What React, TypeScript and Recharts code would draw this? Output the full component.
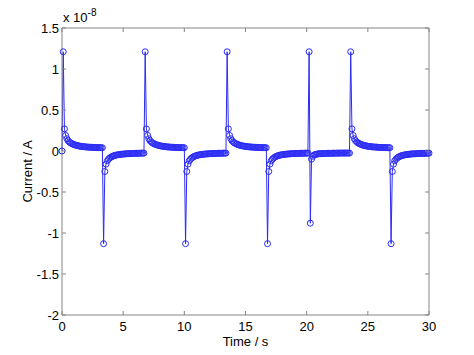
import React from 'react';
import { LineChart, Line, XAxis, YAxis } from 'recharts';

const X_TICKS = [0, 5, 10, 15, 20, 25, 30];
const Y_TICKS = [-2, -1.5, -1, -0.5, 0, 0.5, 1, 1.5];

// pulses: start sample (tenths of a second), spike values, which decay follows
const PULSE_START = [1, 34, 68, 101, 135, 168, 202, 236, 269];
const PULSE_PEAKS = [[1.21], [-1.13], [1.21], [-1.13], [1.21], [-1.13], [1.21, -0.88], [1.21], [-1.13]];
const PULSE_TAIL = ['pos', 'neg', 'pos', 'neg', 'pos', 'neg', 'dip', 'pos', 'neg'];

// decay after a spike (x 1e-8 A, every 0.1 s)
const POS_TAIL = [
  0.27, 0.19, 0.15, 0.125, 0.11, 0.098, 0.09, 0.083, 0.077, 0.072, 0.068, 0.064,
  0.061, 0.058, 0.056, 0.054, 0.052, 0.05, 0.049, 0.048, 0.047, 0.046, 0.045, 0.044,
  0.043, 0.043, 0.042, 0.042, 0.041, 0.041, 0.04, 0.04, 0.04, 0.04,
];
const NEG_TAIL = [
  -0.25, -0.16, -0.12, -0.1, -0.085, -0.075, -0.067, -0.06, -0.055, -0.051, -0.048, -0.045,
  -0.043, -0.041, -0.039, -0.037, -0.036, -0.035, -0.034, -0.033, -0.032, -0.031, -0.03, -0.03,
  -0.029, -0.029, -0.028, -0.028, -0.027, -0.027, -0.026, -0.026, -0.026, -0.026,
];
const DIP_TAIL = [
  -0.1, -0.065, -0.05, -0.043, -0.039, -0.036, -0.034, -0.033, -0.032, -0.031, -0.03, -0.03,
  -0.029, -0.029, -0.028, -0.028, -0.028, -0.027, -0.027, -0.027, -0.026, -0.026, -0.026, -0.026,
  -0.025, -0.025, -0.025, -0.025, -0.025, -0.025, -0.025, -0.025, -0.025, -0.025,
];

const TAILS: Record<string, number[]> = { pos: POS_TAIL, neg: NEG_TAIL, dip: DIP_TAIL };
const LAST_SAMPLE = 300;

const data: { t: number; i: number }[] = [{ t: 0, i: 0 }];
PULSE_START.forEach((start, k) => {
  const end = k + 1 < PULSE_START.length ? PULSE_START[k + 1] : LAST_SAMPLE + 1;
  const vals = [...PULSE_PEAKS[k], ...TAILS[PULSE_TAIL[k]]];
  for (let n = start; n < end; n++) {
    const v = vals[Math.min(n - start, vals.length - 1)];
    data.push({ t: n / 10, i: v });
  }
});

const AXIS = '#858585';
const BLUE = '#2b2bf5';
const FONT = '"Liberation Sans", Arial, sans-serif';
const GAP = 7;
const TL = 4;

const BottomTick = (p: any) => (
  <g>
    <line x1={p.x} y1={p.y - GAP} x2={p.x} y2={p.y - GAP - TL} stroke={AXIS} />
    <text x={p.x} y={p.y} dy="0.71em" textAnchor="middle" fontSize={13} fontFamily={FONT} fill="#000">
      {p.payload.value}
    </text>
  </g>
);
const TopTick = (p: any) => (
  <line x1={p.x} y1={p.y + GAP} x2={p.x} y2={p.y + GAP + TL} stroke={AXIS} />
);
const LeftTick = (p: any) => (
  <g>
    <line x1={p.x + GAP} y1={p.y} x2={p.x + GAP + TL} y2={p.y} stroke={AXIS} />
    <text x={p.x + GAP - 3} y={p.y} dy="0.355em" textAnchor="end" fontSize={13} fontFamily={FONT} fill="#000">
      {p.payload.value}
    </text>
  </g>
);
const RightTick = (p: any) => (
  <line x1={p.x - GAP} y1={p.y} x2={p.x - GAP - TL} y2={p.y} stroke={AXIS} />
);

export default function App() {
  return (
    <div style={{ position: 'absolute', left: 0, top: 0, width: 474, height: 355, background: '#fff' }}>
      <LineChart width={474} height={355} data={data} margin={{ top: 0, right: 0, bottom: 0, left: 0 }}>
        <XAxis
          xAxisId="b"
          dataKey="t"
          type="number"
          domain={[0, 30]}
          ticks={X_TICKS}
          height={40}
          tickSize={0}
          tickMargin={GAP}
          tickLine={false}
          axisLine={{ stroke: AXIS }}
          tick={BottomTick}
          label={{
            content: (props: any) => {
              const vb = props.viewBox;
              return (
                <text x={vb.x + vb.width / 2} y={vb.y + 31} textAnchor="middle" fontSize={13} fontFamily={FONT} fill="#000">
                  Time / s
                </text>
              );
            },
          }}
        />
        <XAxis
          xAxisId="t"
          orientation="top"
          dataKey="t"
          type="number"
          domain={[0, 30]}
          ticks={X_TICKS}
          height={28}
          tickSize={0}
          tickMargin={GAP}
          tickLine={false}
          axisLine={{ stroke: AXIS }}
          tick={TopTick}
          label={{
            content: (props: any) => {
              const vb = props.viewBox;
              return (
                <text x={vb.x + 1} y={vb.y + vb.height - 6} fontSize={13} fontFamily={FONT} fill="#000">
                  x 10
                  <tspan dy={-6} fontSize={10}>-8</tspan>
                </text>
              );
            },
          }}
        />
        <YAxis
          yAxisId="l"
          type="number"
          domain={[-2, 1.5]}
          ticks={Y_TICKS}
          width={62}
          tickSize={0}
          tickMargin={GAP}
          tickLine={false}
          axisLine={{ stroke: AXIS }}
          tick={LeftTick}
          label={{
            content: (props: any) => {
              const vb = props.viewBox;
              const cx = vb.x + 27;
              const cy = vb.y + vb.height / 2;
              return (
                <text
                  x={cx}
                  y={cy}
                  transform={`rotate(-90 ${cx} ${cy})`}
                  textAnchor="middle"
                  dominantBaseline="central"
                  fontSize={13}
                  fontFamily={FONT}
                  fill="#000"
                >
                  Current / A
                </text>
              );
            },
          }}
        />
        <YAxis
          yAxisId="r"
          orientation="right"
          type="number"
          domain={[-2, 1.5]}
          ticks={Y_TICKS}
          width={45}
          tickSize={0}
          tickMargin={GAP}
          tickLine={false}
          axisLine={{ stroke: AXIS }}
          tick={RightTick}
        />
        <Line
          xAxisId="t"
          yAxisId="r"
          dataKey="i"
          stroke="none"
          dot={false}
          activeDot={false}
          isAnimationActive={false}
        />
        <Line
          xAxisId="b"
          yAxisId="l"
          type="linear"
          dataKey="i"
          stroke={BLUE}
          strokeWidth={1}
          dot={{ r: 3, stroke: BLUE, strokeWidth: 1, fill: 'none' }}
          activeDot={false}
          isAnimationActive={false}
        />
      </LineChart>
    </div>
  );
}
